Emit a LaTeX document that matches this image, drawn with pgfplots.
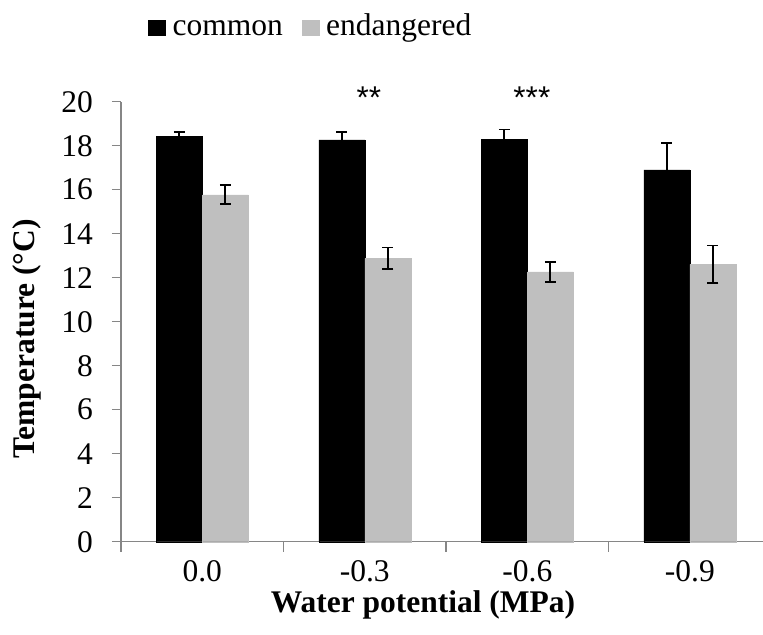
\documentclass[border=0pt]{standalone}
\usepackage{pgfplots}
\pgfplotsset{compat=1.18}
\usepackage{fontspec}
\setmainfont{Liberation Serif}
\newfontfamily\arialfont{Liberation Sans}
\definecolor{axgray}{HTML}{868686}
\definecolor{bargray}{HTML}{BFBFBF}
\begin{document}
\fontsize{31.5bp}{37bp}\selectfont
\begin{tikzpicture}
\useasboundingbox (-121bp,-93.3bp) rectangle (642bp,541.7bp);
\begin{axis}[
  scale only axis, width=642bp, height=440bp,
  xmin=-0.5, xmax=3.45, ymin=0, ymax=20,
  clip=false,
  axis x line=bottom, axis y line=left,
  axis line style={-, axgray, line width=1.5bp},
  ytick={0,2,...,20},
  xtick={0,1,2,3}, xticklabels={0.0,-0.3,-0.6,-0.9},
  minor xtick={-0.5,0.5,1.5,2.5},
  tick align=outside, major tick length=9bp, minor tick length=10bp,
  every tick/.style={axgray, line width=1.5bp},
  major x tick style={draw=none},
  /pgf/number format/assume math mode=true,
  yticklabel style={anchor=east, inner sep=0pt, xshift=-19bp},
  xticklabel style={anchor=north, inner sep=0pt, yshift=-9.3bp},
  xlabel={\bfseries Water potential (MPa)},
  ylabel={\bfseries Temperature (°C)},
  xlabel style={at={(axis description cs:0.4704,0)}, anchor=base, yshift=-70.3bp, inner sep=0pt},
  ylabel style={at={(axis description cs:0,0.4607)}, anchor=center, rotate=0, yshift=94bp, inner sep=0pt},
  ybar=0pt, bar width=46bp,
  legend columns=2,
  legend style={draw=none, fill=none, at={(rel axis cs:0,1)}, anchor=north west,
    xshift=27bp, yshift=88.2bp, inner sep=0pt,
    nodes={inner sep=0pt, text height=22bp, text depth=7bp},
    /tikz/every odd column/.append style={column sep=7bp},
    /tikz/every even column/.append style={column sep=19bp}},
  legend image code/.code={\fill[#1] (0bp,-7.5bp) rectangle (17bp,7.5bp);},
]
\addplot[fill=black, draw=black,
  error bars/.cd, y dir=both, y explicit,
  error bar style={black, line width=1.8bp},
  error mark options={black, line width=1.8bp, mark size=5.5bp, rotate=90}]
  coordinates {(0,18.41) +- (0,0.23) (1,18.27) +- (0,0.37) (2,18.30) +- (0,0.44) (3,16.90) +- (0,1.24)};
\addplot[fill=bargray, draw=bargray,
  error bars/.cd, y dir=both, y explicit,
  error bar style={black, line width=1.8bp},
  error mark options={black, line width=1.8bp, mark size=5.5bp, rotate=90}]
  coordinates {(0,15.77) +- (0,0.43) (1,12.88) +- (0,0.49) (2,12.27) +- (0,0.46) (3,12.61) +- (0,0.85)};
\legend{common, endangered}
\node[anchor=base, inner sep=0pt, font=\arialfont] at (axis cs:1.025,19.7) {**};
\node[anchor=base, inner sep=0pt, font=\arialfont] at (axis cs:2.028,19.7) {***};
\end{axis}
\end{tikzpicture}
\end{document}
